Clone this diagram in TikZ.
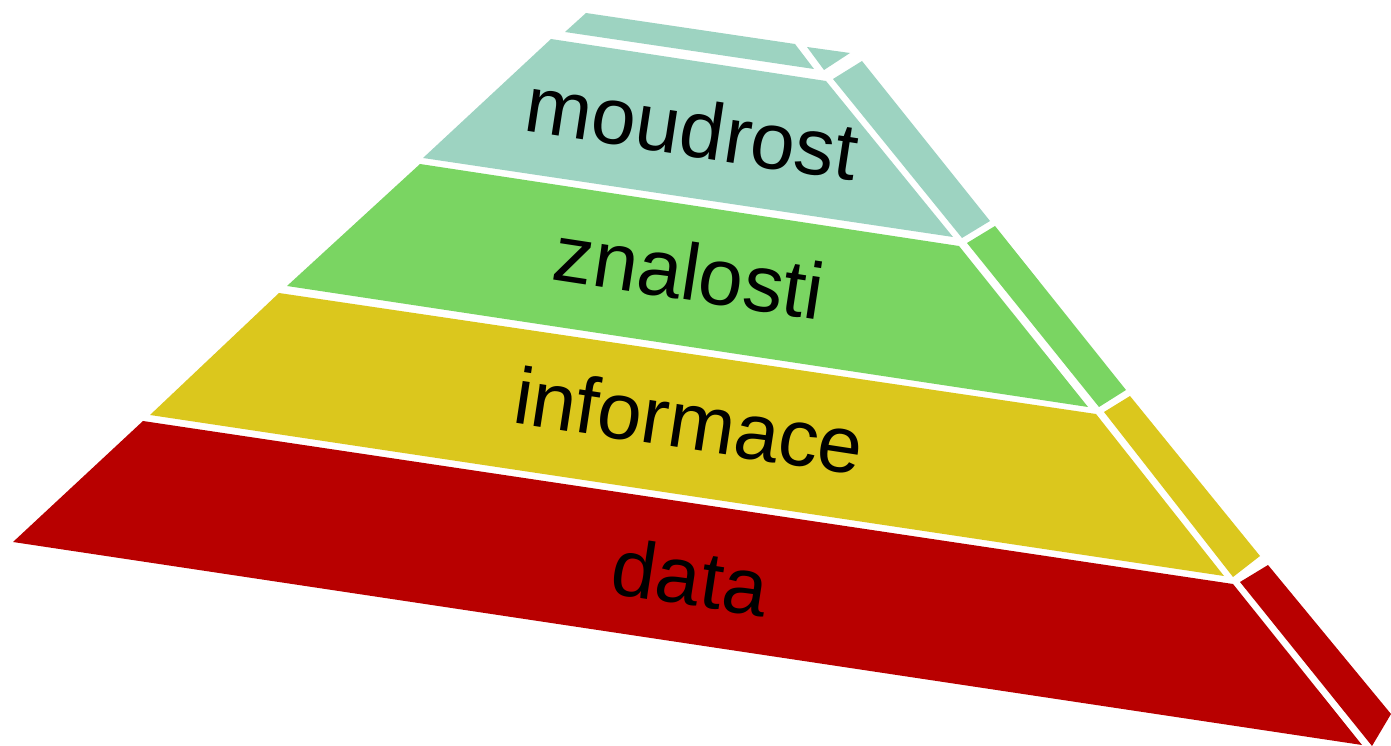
\documentclass[tikz,border=0pt]{standalone}
\usepackage{fontspec}
\setmainfont{Liberation Sans}
\definecolor{wisdomc}{RGB}{157,211,193}
\definecolor{knowc}{RGB}{122,213,98}
\definecolor{infoc}{RGB}{219,199,29}
\definecolor{datac}{RGB}{184,0,0}
\begin{document}
\begin{tikzpicture}[x=0.01cm,y=-0.01cm,
        layername/.style={anchor=base,rotate=-8.7,inner sep=0pt,
            font=\fontsize{22.8}{24}\selectfont}]
    \useasboundingbox (0,0) rectangle (1391,746);
    % top of the pyramid
    \fill[wisdomc] (586,13) -- (795,44) -- (814,69) -- (565,32) -- cycle;
    \fill[wisdomc] (807,47) -- (850,53) -- (824,70) -- cycle;
    % front faces
    \fill[wisdomc] (551,39) -- (826,81) -- (953,237) -- (423,158) -- cycle;
    \fill[knowc] (420,164) -- (959,246) -- (1088,407) -- (287,286) -- cycle;
    \fill[infoc] (279,293) -- (1096,414) -- (1224,576) -- (150,415) -- cycle;
    \fill[datac] (143,421) -- (1233,584) -- (1362,745) -- (13,542) -- cycle;
    % side faces
    \fill[wisdomc] (833,79) -- (862,61) -- (990,221) -- (962,238) -- cycle;
    \fill[knowc] (967,243) -- (995,226) -- (1126,390) -- (1099,407) -- cycle;
    \fill[infoc] (1104,412) -- (1130,396) -- (1260,556) -- (1233,577) -- cycle;
    \fill[datac] (1240,582) -- (1268,565) -- (1391,714) -- (1372,746) -- cycle;
    % labels
    \node[layername] (moudrost) at (688,156) {moudrost};
    \node[layername] (znalosti) at (685,300) {znalosti};
    \node[layername] (informace) at (685,449) {informace};
    \node[layername] (data) at (686,605) {data};
\end{tikzpicture}
\end{document}
